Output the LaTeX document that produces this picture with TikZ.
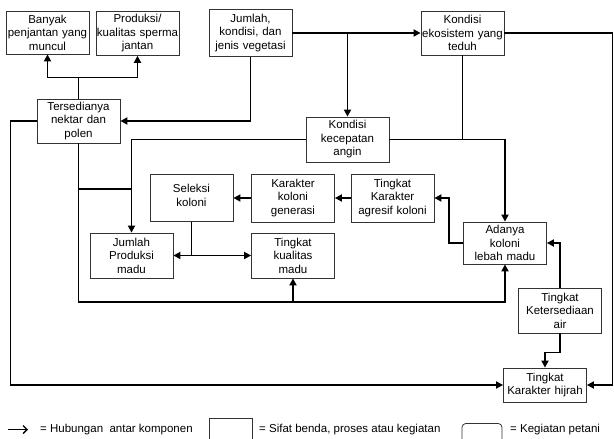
\documentclass[tikz,border=0pt]{standalone}
\usepackage{fontspec}
\setmainfont{Liberation Sans}
\usetikzlibrary{arrows.meta}
\begin{document}
\begin{tikzpicture}[x=1pt,y=-1pt,
  box/.style={draw=black!80,line width=0.8pt,align=center,text width=82pt,
    inner xsep=0.5pt,inner ysep=3pt,font=\fontsize{11.5}{13.5}\selectfont},
  conn/.style={line width=1.7pt},
  arr/.style={conn,-{Triangle[length=7pt,width=7pt]}},
  arrs/.style={conn,{Triangle[length=7pt,width=7pt]}-{Triangle[length=7pt,width=7pt]}},
  legtext/.style={anchor=west,inner sep=0pt,font=\fontsize{11.5}{13.5}\selectfont}]
  \useasboundingbox (0,0) rectangle (614,439);
  \node [box,minimum height=43pt] (banyak) at (47.5,32.5) {Banyak\\penjantan yang\\muncul};
  \node [box,minimum height=43pt] (sperma) at (137.5,33.5) {Produksi/\\kualitas sperma\\jantan};
  \node [box,minimum height=47pt] (vegetasi) at (250.5,33) {Jumlah,\\kondisi, dan\\jenis vegetasi};
  \node [box,minimum height=44pt] (nektar) at (78.5,121) {Tersedianya\\nektar dan\\polen};
  \node [box,minimum height=44pt] (teduh) at (462.5,33) {Kondisi\\ekosistem yang\\teduh};
  \node [box,minimum height=45pt] (angin) at (347.5,139.5) {Kondisi\\kecepatan\\angin};
  \node [box,minimum height=47pt,text depth=19pt] (seleksi) at (191.5,198) {Seleksi\\koloni};
  \node [box,minimum height=48pt] (generasi) at (293,198) {Karakter\\koloni\\generasi};
  \node [box,minimum height=48pt] (agresif) at (392.5,198) {Tingkat\\Karakter\\agresif koloni};
  \node [box,minimum height=45pt] (prodmadu) at (131.5,255.5) {Jumlah\\Produksi\\madu};
  \node [box,minimum height=45pt] (kualitas) at (293,255.5) {Tingkat\\kualitas\\madu};
  \node [box,minimum height=42pt] (koloni) at (505,243) {Adanya\\koloni\\lebah madu};
  \node [box,minimum height=45pt] (air) at (560,310.5) {Tingkat\\Ketersediaan\\air};
  \node [box,minimum height=34pt] (hijrah) at (545,385) {Tingkat\\Karakter hijrah};
  \coordinate (split) at (0,189);
  \coordinate (floor) at (0,302);
  \draw [arr] (nektar.north) -- ++(0,-21) -| (banyak.south);
  \draw [arr] (nektar.north) -- ++(0,-21) -| (sperma.south);
  \draw [arr] (vegetasi.south) |- (nektar.east);
  \draw [arr] (vegetasi.east) -- (teduh.west);
  \draw [arr] (angin.north |- vegetasi.east) -- (angin.north);
  \draw [arr] (teduh.east) -- ++(108,0) |- (hijrah.east);
  \draw [conn] (teduh.south) -- (teduh.south |- angin.east);
  \draw [arr] (angin.east) -| (koloni.north);
  \draw [arr] (angin.west) -| (prodmadu.north);
  \draw [arr] (nektar.south) |- (koloni.south |- floor) -- (koloni.south);
  \draw [arr] (kualitas.south |- floor) -- (kualitas.south);
  \draw [conn] (nektar.south |- split) -- (prodmadu.north |- split);
  \draw [conn] (seleksi.south) -- (seleksi.south |- prodmadu.east);
  \draw [arrs] (prodmadu.east) -- (kualitas.west);
  \draw [arr] (generasi.west) -- (seleksi.east);
  \draw [arr] (agresif.west) -- (generasi.east);
  \draw [arr] (koloni.west) -- ++(-14,0) |- (agresif.east);
  \draw [arr] (air.north) |- (koloni.east);
  \draw [arr] (air.south) -- ++(0,19) -| (hijrah.north);
  \draw [arr] (nektar.west) -- ++(-26,0) |- (hijrah.west);
  \coordinate (legstart) at (8,429.5);
  \coordinate (legend) at (28,429.5);
  \draw [line width=1.3pt,-{Straight Barb[length=4pt,width=8pt]}] (legstart) -- (legend);
  \node [legtext] (leghub) at (40,430) {= Hubungan~ antar komponen};
  \node [draw=black!80,line width=0.8pt,anchor=north,minimum width=43pt,minimum height=30pt] (legbox) at (230.5,418) {};
  \node [legtext] (legsifat) at (259,430) {= Sifat benda, proses atau kegiatan};
  \node [draw=black!80,line width=0.8pt,rounded corners=4pt,anchor=north,minimum width=40pt,minimum height=30pt] (legpetani) at (482,423) {};
  \node [legtext] (legkeg) at (510,430) {= Kegiatan petani};
\end{tikzpicture}
\end{document}
